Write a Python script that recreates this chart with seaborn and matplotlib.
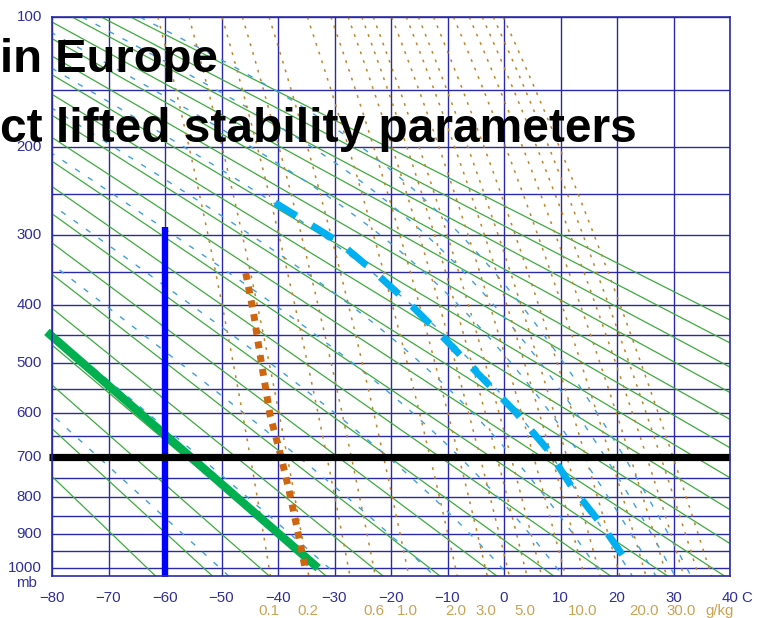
"""
Stuve diagram with lifted parcel, dew point and reference lines.
"""

import numpy as np
import pandas as pd
import seaborn as sns
import matplotlib
matplotlib.use("Agg")
import matplotlib.pyplot as plt
from matplotlib.transforms import blended_transform_factory

sns.set_theme(style="white")
plt.rcParams["font.family"] = ["Liberation Sans", "DejaVu Sans"]

KAPPA = 0.286

# guide families of the diagram
dry_thetas = list(range(210, 410, 10))          # K
moist_theta_e = list(range(223, 404, 20))       # K
mix_ratios = [0.1, 0.2, 0.4, 0.6, 1.0, 2.0, 3.0, 4.0, 5.0, 6.0, 8.0,
              10.0, 12.0, 15.0, 20.0, 25.0, 30.0, 35.0, 40.0]  # g/kg
mix_labels = [0.1, 0.2, 0.6, 1.0, 2.0, 3.0, 5.0, 10.0, 20.0, 30.0]

p_labels = [100, 200, 300, 400, 500, 600, 700, 800, 900, 1000]
t_labels = [-80, -70, -60, -50, -40, -30, -20, -10, 0, 10, 20, 30, 40]

# highlighted traces
parcel_p = [260, 309, 352, 402, 459, 521, 598, 683, 773, 874, 984]
parcel_t = [-40.5, -29.2, -22.7, -16.3, -10.3, -4.6, 2.0, 7.8, 12.0, 17.3, 21.9]
dew_p = [352, 415, 484, 605, 697, 778, 885, 1000]
dew_t = [-45.7, -44.3, -43.2, -41.4, -39.5, -38.1, -36.6, -35.2]
env_p = [445, 1000]
env_t = [-80.9, -32.9]
iso_p = [290, 1027]
iso_t = [-60, -60]
level_p = [700, 700]
level_t = [-80.6, 40.0]

GRID = "#2a2aa6"
LABEL = "#2e2e9a"
TAN = "#c9a253"


def dewpoint(w, p):
    e = w * p / (622.0 + w)
    x = np.log(e / 6.112)
    return 243.5 * x / (17.67 - x)


def theta_e_sat(tk, p):
    tc = tk - 273.15
    es = 6.112 * np.exp(17.67 * tc / (tc + 243.5))
    r = 0.622 * es / (p - es)
    th = tk * (1000.0 / p) ** (0.2854 * (1 - 0.28 * r)) * \
        np.exp((3.376 / tk - 0.00254) * r * 1000 * (1 + 0.81 * r))
    return th, es


p_grid = np.linspace(100, 1025, 240)

rows = []
for th in dry_thetas:
    for p in p_grid:
        rows.append((th, p, th * (p / 1000.0) ** KAPPA - 273.15))
dry = pd.DataFrame(rows, columns=["line", "p", "t"])

rows = []
tk_grid = np.linspace(150, 330, 1500)
for p in p_grid:
    th, es = theta_e_sat(tk_grid, p)
    ok = es < 0.25 * p
    for te in moist_theta_e:
        if th[ok].min() <= te <= th[ok].max():
            rows.append((te, p, np.interp(te, th[ok], tk_grid[ok]) - 273.15))
moist = pd.DataFrame(rows, columns=["line", "p", "t"])

rows = []
for w in mix_ratios:
    for p in p_grid:
        rows.append((w, p, dewpoint(w, p)))
mix = pd.DataFrame(rows, columns=["line", "p", "t"])

fig = plt.figure(figsize=(7.57, 6.18), dpi=100)
ax = fig.add_axes([52 / 757, 42 / 618, 678 / 757, 559 / 618])
ax.set_yscale("function", functions=(lambda p: np.power(np.clip(p, 1e-6, None), KAPPA),
                                     lambda q: np.power(np.clip(q, 0, None), 1 / KAPPA)))

sns.lineplot(data=dry, x="t", y="p", units="line", estimator=None, sort=False,
             color="#3dab3d", lw=0.9, ax=ax)
sns.lineplot(data=moist, x="t", y="p", units="line", estimator=None, sort=False,
             color="#3e9fe0", lw=1.0, linestyle=(0, (4, 7)), ax=ax)
sns.lineplot(data=mix, x="t", y="p", units="line", estimator=None, sort=False,
             color="#c08528", lw=1.1, linestyle=(0, (1.8, 4.2)), ax=ax)

# highlighted lines
sns.lineplot(x=env_t, y=env_p, estimator=None, sort=False, color="#00b050",
             lw=6, solid_capstyle="butt", clip_on=False, ax=ax)
sns.lineplot(x=iso_t, y=iso_p, estimator=None, sort=False, color="#0000ff",
             lw=4.6, solid_capstyle="butt", clip_on=False, ax=ax)
sns.lineplot(x=dew_t, y=dew_p, estimator=None, sort=False, color="#d0650f",
             lw=5, linestyle=(0, (1, 1)), dash_capstyle="butt", ax=ax)
sns.lineplot(x=parcel_t, y=parcel_p, estimator=None, sort=False, color="#00b0f0",
             lw=5, linestyle=(0, (3.6, 2.6)), dash_capstyle="butt", ax=ax)
sns.lineplot(x=level_t, y=level_p, estimator=None, sort=False, color="#000000",
             lw=5.2, solid_capstyle="butt", clip_on=False, ax=ax)

ax.set_xlim(-80, 40)
ax.set_ylim(1024.6, 100)
ax.set_xticks(np.arange(-80, 41, 10))
ax.set_yticks(np.arange(100, 1001, 50))
ax.tick_params(length=0, labelbottom=False, labelleft=False)
ax.grid(True, color=GRID, lw=1.0)
ax.set_xlabel("")
ax.set_ylabel("")
for s in ax.spines.values():
    s.set_color(GRID)
    s.set_linewidth(1.2)

FS = 10.8
xt = blended_transform_factory(ax.transData, ax.transAxes)
yt = blended_transform_factory(ax.transAxes, ax.transData)
for p in p_labels:
    ax.text(-10 / 678, p, str(p), transform=yt, ha="right", va="center",
            fontsize=FS, color=LABEL)
ax.text(-26 / 678, -7 / 559, "mb", transform=ax.transAxes, ha="center",
        va="center", fontsize=FS, color=LABEL)
for t in t_labels:
    ax.text(t, -22 / 559, str(t).replace("-", "\u2212"), transform=xt,
            ha="center", va="center", fontsize=FS, color=LABEL)
ax.text(1 + 17 / 678, -22 / 559, "C", transform=ax.transAxes, ha="center",
        va="center", fontsize=FS, color=LABEL)
for w in mix_labels:
    ax.text(dewpoint(w, 1000), -35 / 559, f"{w:.1f}", transform=xt,
            ha="center", va="center", fontsize=FS, color=TAN)
ax.text(38.2, -35 / 559, "g/kg", transform=xt, ha="center", va="center",
        fontsize=FS, color=TAN)

# slide title text laid over the chart
fig.text(0, 1 - 72 / 618, "in Europe", fontsize=34, fontweight="bold",
         color="black", ha="left", va="baseline")
fig.text(0, 1 - 142 / 618, "ct lifted stability parameters", fontsize=34.5,
         fontweight="bold", color="black", ha="left", va="baseline")

plt.savefig("out.png", dpi=100)
